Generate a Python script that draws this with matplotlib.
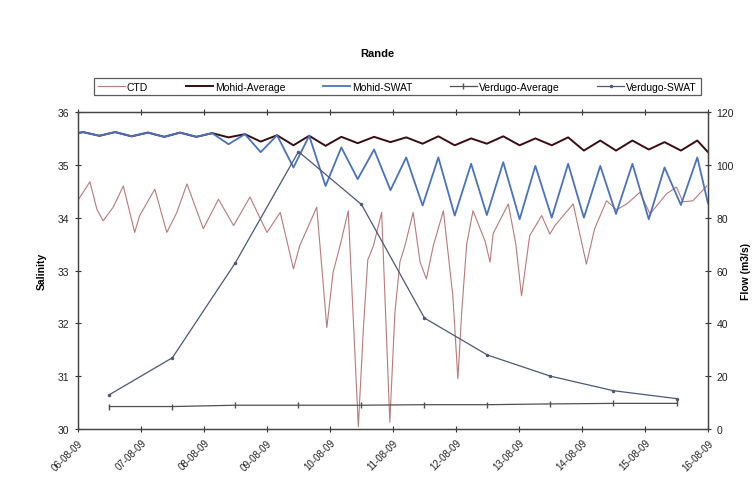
import matplotlib
matplotlib.use("Agg")
import matplotlib.pyplot as plt

plt.rcParams['font.family'] = ['Liberation Sans', 'DejaVu Sans']

# x positions are days of August 2009
day_ticks = [6, 7, 8, 9, 10, 11, 12, 13, 14, 15, 16]
day_labels = ['06-08-09', '07-08-09', '08-08-09', '09-08-09', '10-08-09', '11-08-09',
              '12-08-09', '13-08-09', '14-08-09', '15-08-09', '16-08-09']

# CTD salinity
ctd_t = [6.0, 6.19, 6.3, 6.4, 6.56, 6.72, 6.9, 6.98, 7.22, 7.41, 7.57, 7.73, 7.99, 8.23,
         8.47, 8.73, 9.0, 9.21, 9.42, 9.52, 9.79, 9.95, 10.05, 10.16, 10.29, 10.45, 10.53,
         10.6, 10.69, 10.82, 10.95, 11.03, 11.11, 11.19, 11.32, 11.43, 11.53, 11.64, 11.8,
         11.95, 12.03, 12.09, 12.17, 12.27, 12.46, 12.54, 12.59, 12.83, 12.95, 13.04, 13.17,
         13.36, 13.49, 13.57, 13.86, 14.07, 14.2, 14.39, 14.55, 14.71, 14.92, 15.08, 15.34,
         15.5, 15.6, 15.76, 15.98]
ctd_s = [34.33, 34.68, 34.16, 33.94, 34.2, 34.6, 33.72, 34.04, 34.54, 33.72, 34.1, 34.64,
         33.79, 34.35, 33.85, 34.39, 33.72, 34.1, 33.03, 33.47, 34.2, 31.92, 32.97, 33.47,
         34.13, 30.04, 31.9, 33.2, 33.47, 34.1, 30.13, 32.2, 33.16, 33.47, 34.1, 33.16,
         32.84, 33.47, 34.13, 32.52, 30.95, 32.2, 33.5, 34.13, 33.56, 33.16, 33.7, 34.26,
         33.5, 32.52, 33.66, 34.04, 33.69, 33.85, 34.26, 33.12, 33.79, 34.32, 34.15, 34.26,
         34.48, 34.07, 34.45, 34.58, 34.3, 34.32, 34.6]

# Mohid tide extrema (start, then alternating high / low water)
mohid_t = [6.0, 6.08, 6.34, 6.59, 6.85, 7.11, 7.37, 7.62, 7.88, 8.13, 8.39, 8.65, 8.9,
           9.16, 9.42, 9.67, 9.93, 10.18, 10.44, 10.7, 10.96, 11.21, 11.47, 11.72, 11.98,
           12.24, 12.49, 12.75, 13.01, 13.26, 13.52, 13.78, 14.03, 14.29, 14.54, 14.8,
           15.06, 15.31, 15.57, 15.83, 16.0]
mohid_avg = [35.6, 35.62, 35.55, 35.62, 35.54, 35.61, 35.53, 35.61, 35.53, 35.6, 35.52,
             35.58, 35.44, 35.56, 35.37, 35.55, 35.36, 35.53, 35.41, 35.53, 35.43, 35.52,
             35.4, 35.54, 35.37, 35.5, 35.4, 35.54, 35.37, 35.5, 35.37, 35.52, 35.27, 35.46,
             35.27, 35.46, 35.29, 35.43, 35.27, 35.46, 35.24]
mohid_swat = [35.6, 35.62, 35.55, 35.62, 35.54, 35.61, 35.53, 35.61, 35.53, 35.6, 35.39,
              35.58, 35.24, 35.56, 34.95, 35.55, 34.6, 35.33, 34.73, 35.29, 34.52, 35.14,
              34.23, 35.14, 34.04, 35.02, 34.05, 35.05, 33.97, 34.98, 34.0, 35.02, 34.0,
              34.98, 34.07, 35.02, 33.97, 34.95, 34.24, 35.14, 34.27]

# Verdugo river flow (daily)
verdugo_t = [6.5, 7.5, 8.5, 9.5, 10.5, 11.5, 12.5, 13.5, 14.5, 15.5]
verdugo_avg = [8.5, 8.5, 9.0, 9.0, 9.0, 9.2, 9.2, 9.5, 9.7, 9.7]
verdugo_swat = [13, 27, 63, 105, 85, 42, 28, 20, 14.5, 11.5]

fig = plt.figure(figsize=(7.54, 4.85), dpi=100)
ax = fig.add_axes([0.1034, 0.1134, 0.8356, 0.6536])
ax2 = ax.twinx()

l1, = ax.plot(ctd_t, ctd_s, color='#b97a7a', lw=0.8, label='CTD')
l2, = ax.plot(mohid_t, mohid_avg, color='#3a0d10', lw=1.4, label='Mohid-Average')
l3, = ax.plot(mohid_t, mohid_swat, color='#4a72c0', lw=1.3, label='Mohid-SWAT')
l4, = ax2.plot(verdugo_t, verdugo_avg, color='#505050', lw=0.9, marker='|', ms=5,
               label='Verdugo-Average')
l5, = ax2.plot(verdugo_t, verdugo_swat, color='#4b5878', lw=0.9, marker='o', ms=1.5,
               label='Verdugo-SWAT')

ax.set_xlim(6, 16)
ax.set_ylim(30, 36)
ax2.set_ylim(0, 120)
ax.set_yticks([30, 31, 32, 33, 34, 35, 36])
ax2.set_yticks([0, 20, 40, 60, 80, 100, 120])
ax.set_xticks(day_ticks)
ax.set_xticklabels(day_labels, rotation=45, ha='right', rotation_mode='anchor', fontsize=7)

ax.tick_params(axis='x', direction='inout', length=5, width=0.8, top=True, colors='#333333',
               labelcolor='#222222')
ax.tick_params(axis='y', direction='inout', length=5, width=0.8, labelsize=7.5,
               colors='#333333', labelcolor='#222222')
ax2.tick_params(axis='y', direction='inout', length=5, width=0.8, labelsize=7.5,
                colors='#333333', labelcolor='#222222')
for a in (ax, ax2):
    for sp in a.spines.values():
        sp.set_color('#444444')
        sp.set_linewidth(0.9)

ax.set_ylabel('Salinity', fontsize=7.5, fontweight='bold', labelpad=8)
fig.text(0.983, 0.44, 'Flow (m3/s)', rotation=90, fontsize=7.5, fontweight='bold',
         ha='left', va='center')
fig.text(0.5, 0.882, 'Rande', fontsize=8, fontweight='bold', ha='center')

leg = fig.legend(handles=[l1, l2, l3, l4, l5], loc='center', bbox_to_anchor=(0.527, 0.819),
                 ncol=5, fontsize=7.5, frameon=True, fancybox=False, shadow=False,
                 handlelength=2.6, handletextpad=0.2, columnspacing=3.6,
                 borderpad=0.35)
leg.get_frame().set_edgecolor('#333333')
leg.get_frame().set_linewidth(0.9)

fig.savefig('out.png', dpi=100)
